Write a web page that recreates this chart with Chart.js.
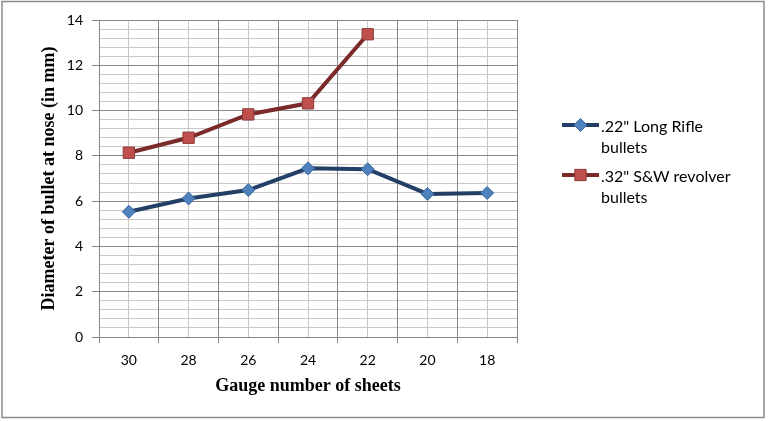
<!DOCTYPE html>
<html>
<head>
<meta charset="utf-8">
<style>
  html, body { margin: 0; padding: 0; background: #fff; }
  #wrap { position: relative; width: 769px; height: 421px; }
</style>
</head>
<body>
<div id="wrap">
  <canvas id="gaugeChart" width="769" height="421"></canvas>
</div>

<script src="https://cdn.jsdelivr.net/npm/chart.js"></script>

<script>
  // Data
  const gauges = ['30', '28', '26', '24', '22', '20', '18'];
  const longRifle = [5.53, 6.12, 6.49, 7.45, 7.41, 6.32, 6.36];
  const swRevolver = [8.14, 8.80, 9.83, 10.32, 13.37, null, null];
  const legendLines = [
    ['.22" Long Rifle', 'bullets'],
    ['.32" S&W revolver', 'bullets']
  ];

  const MAJOR = '#868686';
  const MINOR = '#c8c8c8';

  // outer frame + legend on the right (two-line labels, which the built-in legend can't do)
  const framePlugin = {
    id: 'frame',
    beforeDraw(chart) {
      const c = chart.ctx;
      c.save();
      c.strokeStyle = '#8a8a8a';
      c.lineWidth = 1.5;
      c.strokeRect(2, 1.5, 762, 416);
      c.restore();
    },
    afterDraw(chart) {
      const c = chart.ctx;
      c.save();
      chart.data.datasets.forEach((ds, i) => {
        const y = 125 + i * 50;
        c.strokeStyle = ds.borderColor;
        c.lineWidth = 4;
        c.beginPath();
        c.moveTo(562, y);
        c.lineTo(599, y);
        c.stroke();
        c.fillStyle = ds.pointBackgroundColor;
        c.strokeStyle = ds.pointBorderColor;
        c.lineWidth = 1;
        Chart.helpers.drawPoint(c, {
          pointStyle: ds.pointStyle,
          radius: ds.pointRadius,
          borderWidth: 1,
          rotation: 0
        }, 580.5, y);
        c.fillStyle = '#000';
        c.font = '16px Lato';
        c.textBaseline = 'middle';
        c.textAlign = 'left';
        legendLines[i].forEach((t, k) => c.fillText(t, 601, y + 2 + k * 21));
      });
      c.restore();
    }
  };

  const ctx = document.getElementById('gaugeChart').getContext('2d');
  new Chart(ctx, {
    type: 'line',
    data: {
      labels: gauges,
      datasets: [{
        label: '.22" Long Rifle bullets',
        data: longRifle,
        borderColor: '#233f66',
        borderWidth: 4,
        pointStyle: 'rectRot',
        pointRadius: 6.5,
        pointBackgroundColor: '#4f81bd',
        pointBorderColor: '#3a679c',
        pointBorderWidth: 1,
        tension: 0
      }, {
        label: '.32" S&W revolver bullets',
        data: swRevolver,
        borderColor: '#7a2b29',
        borderWidth: 4,
        pointStyle: 'rect',
        pointRadius: 8,
        pointBackgroundColor: '#c0504d',
        pointBorderColor: '#8b3a38',
        pointBorderWidth: 1,
        tension: 0
      }]
    },
    options: {
      responsive: false,
      animation: false,
      devicePixelRatio: 1,
      layout: { padding: { left: 0, top: 20, right: 252, bottom: 0 } },
      plugins: {
        legend: { display: false },
        tooltip: { enabled: false }
      },
      scales: {
        x: {
          type: 'category',
          offset: true,
          grid: { offset: true, color: MAJOR, tickColor: MAJOR, tickLength: 6, z: -1 },
          border: { color: MAJOR },
          ticks: { color: '#000', font: { family: 'Lato', size: 14 }, padding: 9, maxRotation: 0 },
          title: {
            display: true,
            text: 'Gauge number of sheets',
            color: '#000',
            font: { family: 'Liberation Serif', size: 18, weight: 'bold' },
            padding: { top: 0, bottom: 24 }
          },
          afterFit(s) { s.height = 84; }
        },
        xMinor: {
          type: 'category',
          position: 'bottom',
          offset: true,
          grid: { offset: false, color: MINOR, drawTicks: false, z: -2 },
          border: { display: false },
          ticks: { display: false },
          afterFit(s) { s.height = 0; }
        },
        y: {
          min: 0,
          max: 14,
          ticks: { stepSize: 2, color: '#000', font: { family: 'Lato', size: 14 }, padding: 9 },
          grid: { color: MAJOR, tickColor: MAJOR, tickLength: 7, z: -1 },
          border: { color: MAJOR },
          title: {
            display: true,
            text: 'Diameter of bullet at nose (in mm)',
            color: '#000',
            font: { family: 'Liberation Serif', size: 18, weight: 'bold' },
            padding: { top: 39, bottom: 0 }
          },
          afterFit(s) { s.width = 99; }
        },
        yMinor: {
          position: 'left',
          min: 0,
          max: 14,
          ticks: { display: false, stepSize: 0.4 },
          grid: { color: MINOR, drawTicks: false, z: -2 },
          border: { display: false },
          afterFit(s) { s.width = 0; }
        }
      }
    },
    plugins: [framePlugin]
  });
</script>
</body>
</html>
